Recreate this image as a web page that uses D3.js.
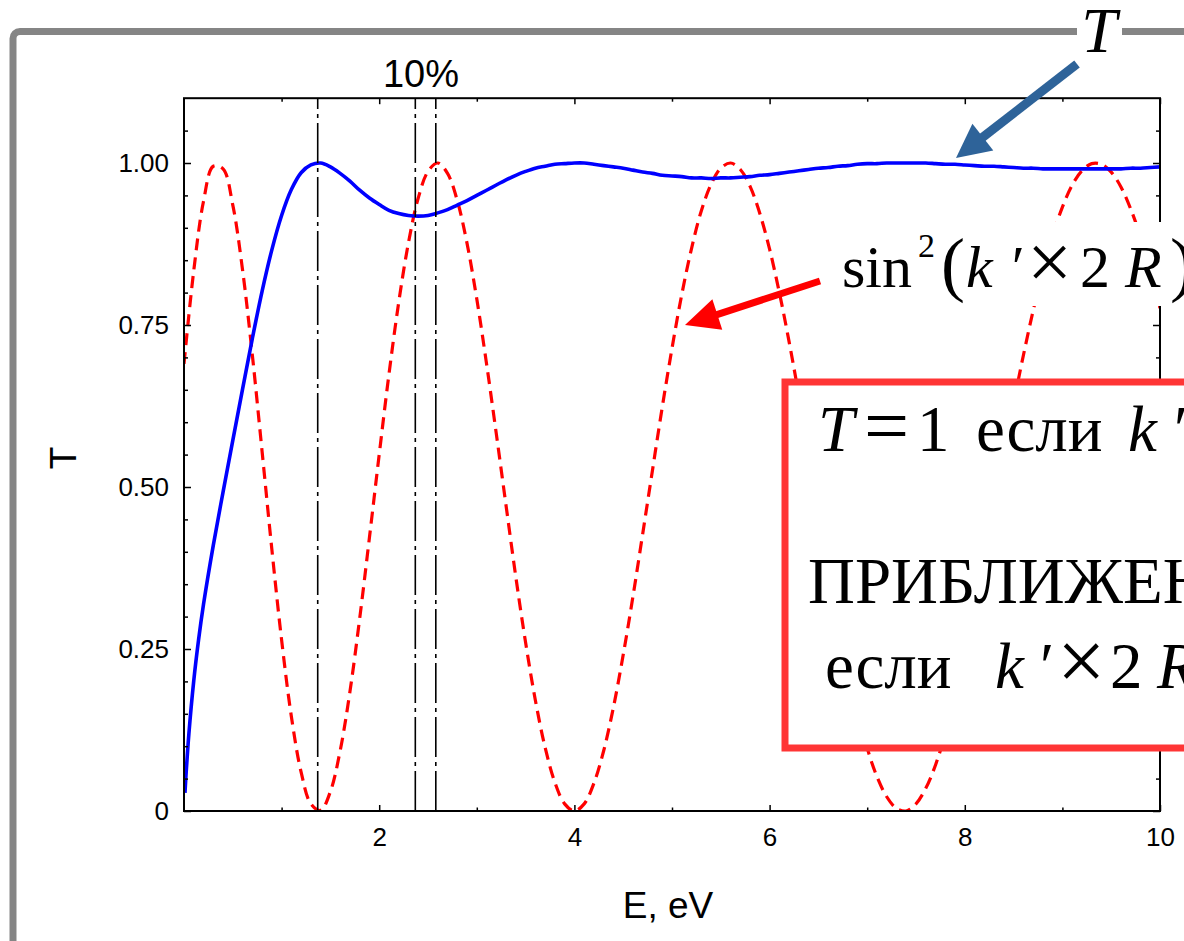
<!DOCTYPE html>
<html><head><meta charset="utf-8">
<script src="https://cdn.jsdelivr.net/npm/d3@7"></script>
<style>body{margin:0;background:#fff;} svg{display:block;}</style>
</head><body>
<svg id="chart" width="1184" height="941"></svg>
<script>
// ---- data ----
const energyRed = [0,0.1,0.2,0.3,0.4,0.5,0.6,0.7,0.8,0.9,1,1.1,1.2,1.3,1.4,1.5,1.6,1.7,1.8,1.9,2,2.1,2.2,2.3,2.4,2.5,2.6,2.7,2.8,2.9,3,3.1,3.2,3.3,3.4,3.5,3.6,3.7,3.8,3.9,4,4.1,4.2,4.3,4.4,4.5,4.6,4.7,4.8,4.9,5,5.1,5.2,5.3,5.4,5.5,5.6,5.7,5.8,5.9,6,6.1,6.2,6.3,6.4,6.5,6.6,6.7,6.8,6.9,7,7.1,7.2,7.3,7.4,7.5,7.6,7.7,7.8,7.9,8,8.1,8.2,8.3,8.4,8.5,8.6,8.7,8.8,8.9,9,9.1,9.2,9.3,9.4,9.5,9.6,9.7,9.8,9.9,10];
const sinSquared = [0.690,0.834,0.941,0.995,0.991,0.935,0.835,0.704,0.555,0.404,0.264,0.146,0.060,0.011,0.001,0.030,0.093,0.184,0.297,0.422,0.550,0.674,0.785,0.877,0.946,0.987,1.000,0.984,0.942,0.876,0.790,0.690,0.582,0.471,0.361,0.260,0.171,0.098,0.044,0.011,0.000,0.011,0.043,0.093,0.160,0.241,0.331,0.428,0.526,0.623,0.714,0.797,0.868,0.926,0.967,0.992,1.000,0.990,0.964,0.922,0.867,0.800,0.724,0.641,0.554,0.466,0.379,0.297,0.221,0.154,0.097,0.053,0.022,0.004,0.000,0.011,0.035,0.071,0.119,0.177,0.243,0.315,0.392,0.471,0.551,0.629,0.703,0.772,0.835,0.888,0.932,0.966,0.988,0.999,0.998,0.986,0.963,0.929,0.886,0.835,0.776];
const energyBlue = [0.01,0.02,0.05,0.1,0.15,0.2,0.3,0.4,0.5,0.6,0.7,0.8,0.9,1,1.1,1.2,1.3,1.4,1.5,1.6,1.7,1.8,1.9,2,2.1,2.2,2.3,2.4,2.5,2.6,2.7,2.8,2.9,3,3.1,3.2,3.3,3.4,3.5,3.6,3.7,3.8,3.9,4,4.1,4.2,4.3,4.4,4.5,4.6,4.7,4.8,4.9,5,5.1,5.2,5.3,5.4,5.5,5.6,5.7,5.8,5.9,6,6.1,6.2,6.3,6.4,6.5,6.6,6.7,6.8,6.9,7,7.1,7.2,7.3,7.4,7.5,7.6,7.7,7.8,7.9,8,8.1,8.2,8.3,8.4,8.5,8.6,8.7,8.8,8.9,9,9.1,9.2,9.3,9.4,9.5,9.6,9.7,9.8,9.9,10];
const transmission = [0.028,0.054,0.119,0.201,0.265,0.319,0.410,0.492,0.572,0.651,0.729,0.802,0.866,0.919,0.959,0.985,0.997,1.000,0.994,0.984,0.972,0.958,0.946,0.936,0.927,0.922,0.919,0.918,0.919,0.923,0.928,0.935,0.942,0.950,0.958,0.966,0.974,0.981,0.987,0.992,0.995,0.998,0.999,1.000,1.000,0.998,0.996,0.994,0.992,0.989,0.986,0.984,0.981,0.980,0.979,0.977,0.977,0.976,0.977,0.977,0.978,0.979,0.981,0.982,0.984,0.986,0.988,0.990,0.992,0.993,0.995,0.996,0.998,0.999,0.999,1.000,1.000,1.000,1.000,1.000,0.999,0.998,0.998,0.997,0.996,0.995,0.995,0.994,0.993,0.992,0.992,0.991,0.991,0.991,0.991,0.991,0.991,0.991,0.991,0.991,0.992,0.992,0.993,0.994];
const markerEnergies = [1.37, 2.37, 2.58];
const xMajorTicks = [2, 4, 6, 8, 10];
const xMinorTicks = [1, 3, 5, 7, 9];
const yMajorTicks = [0, 0.25, 0.5, 0.75, 1.0];
const yTickLabels = ["0", "0.25", "0.50", "0.75", "1.00"];
const yMinorTicks = [0.05,0.1,0.15,0.2,0.3,0.35,0.4,0.45,0.55,0.6,0.65,0.7,0.8,0.85,0.9,0.95,1.05];

// ---- layout ----
const svg = d3.select("#chart");
const L = 184, R = 1160, B = 811, T0 = 98.2;
const x = d3.scaleLinear().domain([0, 10]).range([L, R]);
const y = d3.scaleLinear().domain([0, 1.1]).range([B, T0]);

// outer grey frame
svg.append("rect").attr("x", 13).attr("y", 31.5).attr("width", 1400).attr("height", 1200)
  .attr("rx", 7).attr("fill", "none").attr("stroke", "#858585").attr("stroke-width", 7);

svg.append("defs").append("clipPath").attr("id", "plotclip")
  .append("rect").attr("x", L).attr("y", T0).attr("width", R - L).attr("height", B - T0);

const plot = svg.append("g").attr("clip-path", "url(#plotclip)");

const line = d3.line().x(d => x(d[0])).y(d => y(d[1])).curve(d3.curveCatmullRom.alpha(0.5));

plot.append("path").datum(energyRed.map((e, i) => [e, sinSquared[i]]))
  .attr("d", line).attr("fill", "none").attr("stroke", "#ff0000")
  .attr("stroke-width", 3.2).attr("stroke-dasharray", "12,7");

plot.append("path").datum(energyBlue.map((e, i) => [e, transmission[i]]))
  .attr("d", line).attr("fill", "none").attr("stroke", "#0000ff")
  .attr("stroke-width", 3.6);

plot.selectAll(".vmark").data(markerEnergies).enter().append("line")
  .attr("x1", d => x(d)).attr("x2", d => x(d)).attr("y1", y(0)).attr("y2", y(1.1))
  .attr("stroke", "#000").attr("stroke-width", 1.6).attr("stroke-dasharray", "40,5,4,5");

// axes
const font = "'Liberation Sans', Arial, sans-serif";
function styleAxis(g) {
  g.select(".domain").remove();
  g.selectAll("line").attr("stroke", "#000").attr("stroke-width", 1.5);
  g.selectAll("text").attr("font-family", font).attr("font-size", 26).attr("fill", "#000");
}
svg.append("g").attr("transform", `translate(0,${B})`)
  .call(d3.axisBottom(x).tickValues(xMajorTicks).tickSize(-6).tickPadding(17).tickFormat(d3.format("d"))).call(styleAxis);
svg.append("g").attr("transform", `translate(0,${B})`)
  .call(d3.axisBottom(x).tickValues(xMinorTicks).tickSize(-3.5).tickFormat("")).call(styleAxis);
svg.append("g").attr("transform", `translate(0,${T0})`)
  .call(d3.axisTop(x).tickValues(xMajorTicks).tickSize(-6).tickFormat("")).call(styleAxis);
svg.append("g").attr("transform", `translate(0,${T0})`)
  .call(d3.axisTop(x).tickValues(xMinorTicks).tickSize(-3.5).tickFormat("")).call(styleAxis);
svg.append("g").attr("transform", `translate(${L},0)`)
  .call(d3.axisLeft(y).tickValues(yMajorTicks).tickSize(-7).tickPadding(15)
    .tickFormat((d, i) => yTickLabels[i])).call(styleAxis);
svg.append("g").attr("transform", `translate(${L},0)`)
  .call(d3.axisLeft(y).tickValues(yMinorTicks).tickSize(-4).tickFormat("")).call(styleAxis);
svg.append("g").attr("transform", `translate(${R},0)`)
  .call(d3.axisRight(y).tickValues(yMajorTicks).tickSize(-7).tickFormat("")).call(styleAxis);
svg.append("g").attr("transform", `translate(${R},0)`)
  .call(d3.axisRight(y).tickValues(yMinorTicks).tickSize(-4).tickFormat("")).call(styleAxis);

svg.append("rect").attr("x", L).attr("y", T0).attr("width", R - L).attr("height", B - T0)
  .attr("fill", "none").attr("stroke", "#000").attr("stroke-width", 2);

// axis labels
svg.append("text").attr("x", 668).attr("y", 918).attr("text-anchor", "middle")
  .attr("font-family", font).attr("font-size", 37).text("E, eV");
svg.append("text").attr("transform", "translate(76,458) rotate(-90)").attr("text-anchor", "middle")
  .attr("font-family", font).attr("font-size", 37).text("T");
svg.append("text").attr("x", 421).attr("y", 87).attr("text-anchor", "middle")
  .attr("font-family", font).attr("font-size", 38).text("10%");

// arrows
function arrow(tail, tip, w, hl, hw, color) {
  const dx = tip[0] - tail[0], dy = tip[1] - tail[1];
  const len = Math.hypot(dx, dy), ux = dx / len, uy = dy / len;
  const bx = tip[0] - ux * hl, by = tip[1] - uy * hl;
  svg.append("line").attr("x1", tail[0]).attr("y1", tail[1]).attr("x2", bx + ux * 2).attr("y2", by + uy * 2)
    .attr("stroke", color).attr("stroke-width", w);
  svg.append("polygon").attr("fill", color)
    .attr("points", [[tip[0], tip[1]], [bx - uy * hw, by + ux * hw], [bx + uy * hw, by - ux * hw]].map(p => p.join(",")).join(" "));
}

const serif = "'Liberation Serif', 'Times New Roman', serif";

// sin^2 label with white background
svg.append("rect").attr("x", 832).attr("y", 222).attr("width", 400).attr("height", 84).attr("fill", "#fff");
const s = svg.append("g").attr("font-family", serif).attr("fill", "#000");
s.append("text").attr("x", 842).attr("y", 287).attr("font-size", 60).text("sin");
s.append("text").attr("x", 918).attr("y", 257).attr("font-size", 34).text("2");
s.append("text").attr("x", 941).attr("y", 288).attr("font-size", 72).text("(");
s.append("text").attr("x", 966).attr("y", 287).attr("font-size", 60).attr("font-style", "italic").text("k");
s.append("text").attr("x", 1008).attr("y", 287).attr("font-size", 60).attr("font-style", "italic").text("′");
s.append("text").attr("x", 1027).attr("y", 289).attr("font-size", 80).text("×");
s.append("text").attr("x", 1080).attr("y", 287).attr("font-size", 60).text("2");
s.append("text").attr("x", 1125).attr("y", 287).attr("font-size", 60).attr("font-style", "italic").text("R");
s.append("text").attr("x", 1170).attr("y", 288).attr("font-size", 72).text(")");

// red box
svg.append("rect").attr("x", 785).attr("y", 382).attr("width", 500).attr("height", 366)
  .attr("fill", "#fff").attr("stroke", "#ff3535").attr("stroke-width", 7);
const bx = svg.append("g").attr("font-family", serif).attr("font-size", 65).attr("fill", "#000");
bx.append("text").attr("x", 818).attr("y", 451).attr("font-style", "italic").text("T");
bx.append("text").attr("x", 864).attr("y", 453).attr("font-size", 80).text("=");
bx.append("text").attr("x", 917).attr("y", 451).text("1");
bx.append("text").attr("x", 976).attr("y", 451).text("если");
bx.append("text").attr("x", 1128).attr("y", 451).attr("font-style", "italic").text("k");
bx.append("text").attr("x", 1170).attr("y", 451).attr("font-style", "italic").text("′");
bx.append("text").attr("x", 808).attr("y", 603).text("ПРИБЛИЖЕНИЕ");
bx.append("text").attr("x", 825).attr("y", 688).text("если");
bx.append("text").attr("x", 995).attr("y", 688).attr("font-style", "italic").text("k");
bx.append("text").attr("x", 1036).attr("y", 688).attr("font-style", "italic").text("′");
bx.append("text").attr("x", 1057).attr("y", 690).attr("font-size", 86).text("×");
bx.append("text").attr("x", 1110).attr("y", 688).text("2");
bx.append("text").attr("x", 1157).attr("y", 688).attr("font-style", "italic").text("R");

arrow([820, 281], [685, 325], 7, 34, 16, "#ff0000");

// T label on the grey frame
svg.append("rect").attr("x", 1077).attr("y", 20).attr("width", 45).attr("height", 24).attr("fill", "#fff");
svg.append("text").attr("x", 1099).attr("y", 52).attr("text-anchor", "middle")
  .attr("font-family", serif).attr("font-style", "italic").attr("font-size", 64).text("T");
arrow([1077, 64], [956, 158], 9, 34, 17, "#2e6399");
</script>
</body></html>
